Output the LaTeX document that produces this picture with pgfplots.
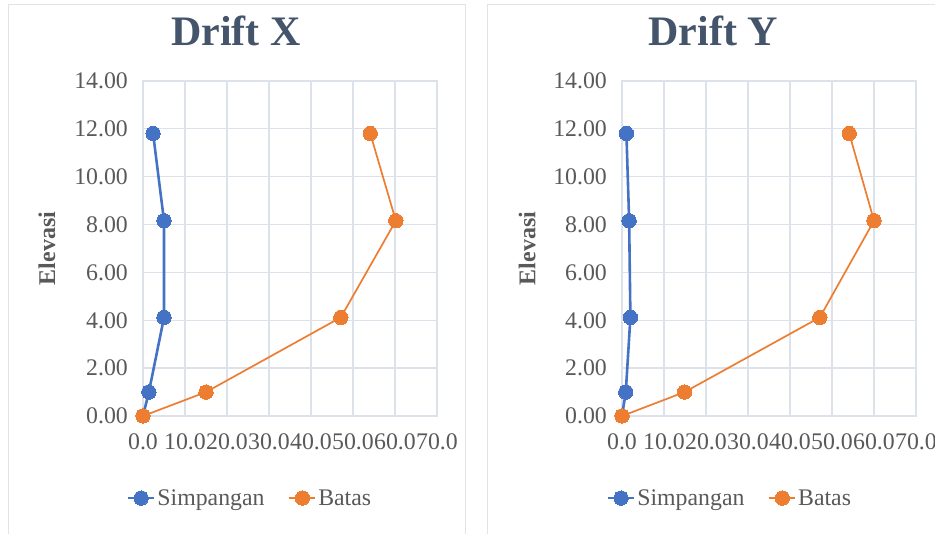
\documentclass[border=0pt]{standalone}
\usepackage{pgfplots}
\pgfplotsset{compat=1.18}
\usepackage{fontspec}
\setmainfont{Liberation Serif}
\definecolor{cblue}{HTML}{4472C4}
\definecolor{corange}{HTML}{ED7D31}
\definecolor{ctitle}{HTML}{44546A}
\definecolor{ctick}{HTML}{595959}
\definecolor{cgrid}{HTML}{DDE1EA}
\definecolor{cframe}{HTML}{E3E3E3}

\pgfplotstableread{
x y
0 0
1.4 1.0
5.0 4.12
5.0 8.16
2.4 11.81
}\simpx
\pgfplotstableread{
x y
0 0
15.0 1.0
47.1 4.12
60.2 8.16
54.1 11.81
}\batasx
\pgfplotstableread{
x y
0 0
0.9 1.0
2.0 4.12
1.7 8.16
1.05 11.81
}\simpy
\pgfplotstableread{
x y
0 0
14.9 1.0
47.1 4.12
60.0 8.16
54.1 11.81
}\batasy

\newcommand{\tickfont}{\fontsize{23.8}{27}\selectfont}
\pgfplotsset{
  drift/.style={
    scale only axis,
    width=294pt, height=335pt,
    anchor=south west,
    xmin=0, xmax=70, ymin=0, ymax=14,
    xtick={0,10,...,70}, ytick={0,2,...,14},
    xticklabels={0.0,10.0,20.0,30.0,40.0,50.0,60.0,70.0},
    yticklabels={0.00,2.00,4.00,6.00,8.00,10.00,12.00,14.00},
    major tick length=0pt,
    grid=major,
    major grid style={cgrid, line width=1.3pt},
    axis line style={cgrid, line width=1.3pt},
    xticklabel style={font=\tickfont, text=ctick, anchor=north, inner sep=0pt, yshift=-17pt},
    yticklabel style={font=\tickfont, text=ctick, anchor=east, inner sep=0pt, xshift=-15pt},
    ylabel={Elevasi},
    ylabel style={font=\fontsize{24}{27}\selectfont\bfseries, text=ctick, anchor=center},
    title style={font=\fontsize{42}{48}\selectfont\bfseries, text=ctitle, anchor=base},
    legend columns=2,
    legend style={draw=none, fill=none, font=\tickfont, text=ctick, anchor=center,
      /tikz/every even column/.append style={column sep=22pt},
      inner sep=0pt},
    legend image code/.code={\draw[mark repeat=2,mark phase=2] plot coordinates {(0pt,0pt) (13pt,0pt) (26pt,0pt)};},
    clip=false,
  },
  simp/.style={cblue, line width=2.6pt, mark=*, mark size=7.2pt, mark options={solid, fill=cblue, draw=cblue, line width=0pt}},
  batas/.style={corange, line width=1.7pt, mark=*, mark size=7.2pt, mark options={solid, fill=corange, draw=corange, line width=0pt}},
}

\begin{document}
\begin{tikzpicture}
\useasboundingbox (0,0) rectangle (935pt,534pt);
\draw[cframe, line width=1pt] (8pt,-5pt) rectangle (465pt,529pt);
\draw[cframe, line width=1pt] (487pt,-5pt) rectangle (950pt,529pt);

\begin{axis}[drift, at={(143pt,118pt)},
  title={Drift X},
  title style={at={(axis description cs:0.316,1.089)}},
  ylabel style={at={(axis description cs:-0.327,0.5)}},
  legend style={at={(axis description cs:0.364,-0.245)}}]
\addplot[simp] table[x=x,y=y] {\simpx};
\addlegendentry{Simpangan}
\addplot[batas] table[x=x,y=y] {\batasx};
\addlegendentry{Batas}
\end{axis}

\begin{axis}[drift, at={(622pt,118pt)},
  title={Drift Y},
  title style={at={(axis description cs:0.310,1.089)}},
  ylabel style={at={(axis description cs:-0.323,0.5)}},
  legend style={at={(axis description cs:0.367,-0.245)}}]
\addplot[simp] table[x=x,y=y] {\simpy};
\addlegendentry{Simpangan}
\addplot[batas] table[x=x,y=y] {\batasy};
\addlegendentry{Batas}
\end{axis}
\end{tikzpicture}
\end{document}
